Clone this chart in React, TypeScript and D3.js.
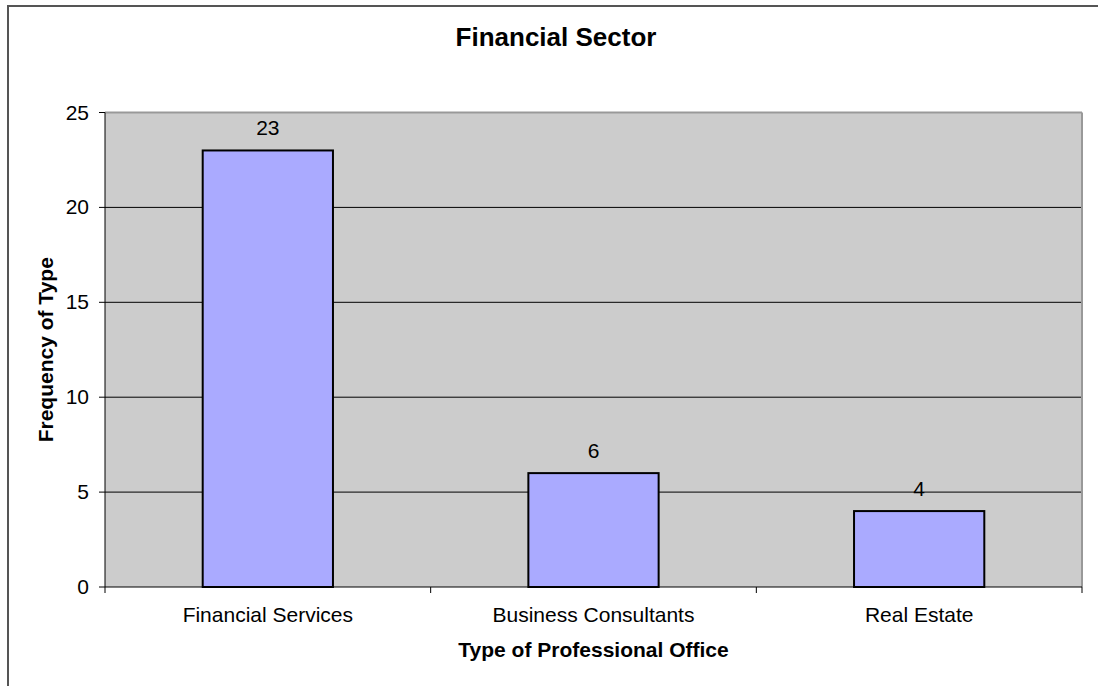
import React from "react";
import * as d3 from "d3";

const categories = ["Financial Services", "Business Consultants", "Real Estate"];
const values = [23, 6, 4];
const yTicks = [0, 5, 10, 15, 20, 25];
const title = "Financial Sector";
const xTitle = "Type of Professional Office";
const yTitle = "Frequency of Type";

const W = 1098;
const H = 686;
const plot = { left: 105, right: 1082, top: 112.5, bottom: 587 };
const font = "Arial, 'Liberation Sans', sans-serif";

export default function App() {
  const x = d3.scaleBand<string>().domain(categories).range([plot.left, plot.right]).paddingInner(0.6).paddingOuter(0.3);
  const xb = d3.scaleBand<string>().domain(categories).range([plot.left, plot.right]);
  const y = d3.scaleLinear().domain([0, 25]).range([plot.bottom, plot.top]);
  const catEdges = d3.range(categories.length + 1).map((i) => plot.left + i * xb.step());

  return (
    <svg width={W} height={H} style={{ position: "absolute", left: 0, top: 0, background: "#fff" }} fontFamily={font}>
      <rect x={8} y={6} width={W + 10} height={H + 10} fill="#fff" stroke="#555" strokeWidth={2} />
      <text x={556} y={46} textAnchor="middle" fontSize={26} fontWeight="bold">{title}</text>
      <rect x={plot.left} y={plot.top} width={plot.right - plot.left} height={plot.bottom - plot.top} fill="#cccccc" />
      {yTicks.filter((t) => t > 0 && t < 25).map((t) => (
        <line key={"g" + t} x1={plot.left} x2={plot.right} y1={y(t)} y2={y(t)} stroke="#000" strokeWidth={1} />
      ))}
      <line x1={plot.left} x2={plot.right} y1={plot.top} y2={plot.top} stroke="#999" strokeWidth={2} />
      <line x1={plot.right} x2={plot.right} y1={plot.top} y2={plot.bottom} stroke="#999" strokeWidth={2} />
      {categories.map((c, i) => (
        <g key={c}>
          <rect x={x(c)} y={y(values[i])} width={x.bandwidth()} height={plot.bottom - y(values[i])} fill="#aaaaff" stroke="#000" strokeWidth={2} />
          <text x={xb(c)! + xb.bandwidth() / 2} y={y(values[i]) - 15} textAnchor="middle" fontSize={21}>{values[i]}</text>
          <text x={xb(c)! + xb.bandwidth() / 2} y={622} textAnchor="middle" fontSize={21}>{c}</text>
        </g>
      ))}
      <line x1={plot.left} x2={plot.left} y1={plot.top} y2={plot.bottom} stroke="#000" strokeWidth={1} />
      <line x1={plot.left} x2={plot.right} y1={plot.bottom} y2={plot.bottom} stroke="#000" strokeWidth={1} />
      {yTicks.map((t) => (
        <g key={"t" + t}>
          <line x1={plot.left - 6} x2={plot.left} y1={y(t)} y2={y(t)} stroke="#000" strokeWidth={1} />
          <text x={89} y={y(t) + 7} textAnchor="end" fontSize={21}>{t}</text>
        </g>
      ))}
      {catEdges.map((e, i) => (
        <line key={"x" + i} x1={e} x2={e} y1={plot.bottom} y2={plot.bottom + 6} stroke="#000" strokeWidth={1} />
      ))}
      <text x={(plot.left + plot.right) / 2} y={657} textAnchor="middle" fontSize={21} fontWeight="bold">{xTitle}</text>
      <text transform={`translate(53,${(plot.top + plot.bottom) / 2}) rotate(-90)`} textAnchor="middle" fontSize={21} fontWeight="bold">{yTitle}</text>
    </svg>
  );
}
